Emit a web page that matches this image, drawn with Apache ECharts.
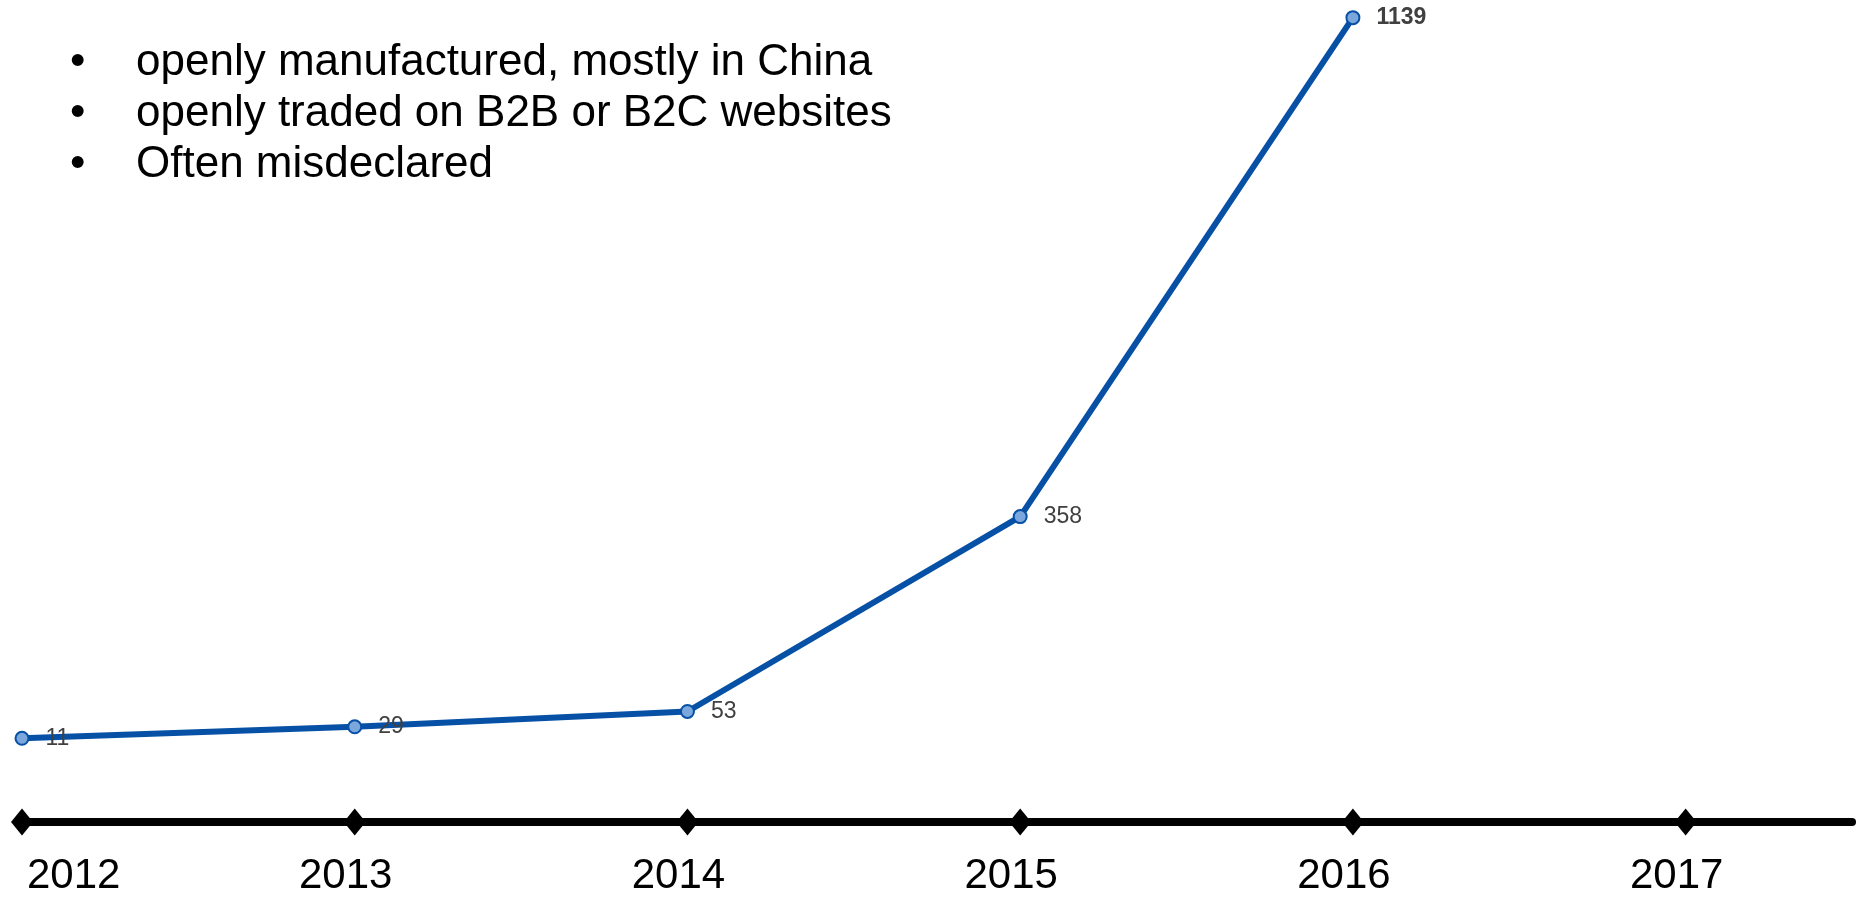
<!DOCTYPE html>
<html>
<head>
<meta charset="utf-8">
<script src="https://cdn.jsdelivr.net/npm/echarts@6/dist/echarts.min.js"></script>
<style>html,body{margin:0;padding:0;background:#fff;}#c{width:1863px;height:897px;}</style>
</head>
<body>
<div id="c"></div>
<script>
var years = [2012, 2013, 2014, 2015, 2016, 2017];
var dataYears = [2012, 2013, 2014, 2015, 2016];
var values = [11, 29, 53, 358, 1139];
var bullets = ['openly manufactured, mostly in China', 'openly traded on B2B or B2C websites', 'Often misdeclared'];

var FONT = '"Liberation Sans", Arial, sans-serif';
var yMin = -120, yMax = 1140;

var chart = echarts.init(document.getElementById('c'));
var lineData = dataYears.map(function (y, i) {
  var d = { value: [y, values[i]] };
  if (i === dataYears.length - 1) d.label = { fontWeight: 'bold' };
  return d;
});
var tickData = years.map(function (y) { return [y, yMin]; });

var graphics = [];
bullets.forEach(function (t, i) {
  var yc = 66 + i * 51;
  graphics.push({ type: 'text', left: 70, top: yc - 25, style: { text: '•', font: '44px ' + FONT, fill: '#000' } });
  graphics.push({ type: 'text', left: 136, top: yc - 25, style: { text: t, font: '44px ' + FONT, fill: '#000' } });
});

chart.setOption({
  animation: false,
  backgroundColor: '#fff',
  grid: { left: 22, right: 11, top: 17, bottom: 72 },
  xAxis: {
    type: 'value', min: 2012, max: 2017.5, interval: 1,
    splitLine: { show: false },
    axisTick: { show: false },
    axisLine: { show: true, onZero: false, lineStyle: { color: '#000', width: 8 } },
    axisLabel: {
      show: true, margin: 33, fontSize: 42, fontFamily: FONT, color: '#000',
      padding: [0, 18, 0, 0],
      alignMinLabel: 'left',
      showMaxLabel: false,
      formatter: function (v) { return Math.round(v) === v ? (v === years[0] ? '{f|' + v + '}' : String(v)) : ''; },
      rich: { f: { fontSize: 42, fontFamily: FONT, color: '#000', padding: [0, 0, 0, 5] } }
    }
  },
  yAxis: { type: 'value', min: yMin, max: yMax, show: false, splitLine: { show: false } },
  graphic: graphics,
  series: [
    {
      type: 'line', data: lineData, z: 3,
      lineStyle: { color: '#0650a6', width: 6 },
      symbol: 'circle', symbolSize: 13,
      itemStyle: { color: '#7ba7dc', borderColor: '#0650a6', borderWidth: 2 },
      label: { show: true, position: 'right', distance: 16, fontSize: 23, fontFamily: FONT, color: '#404040' }
    },
    {
      type: 'scatter', data: tickData, clip: false, z: 4,
      symbol: 'diamond', symbolSize: [22, 27],
      itemStyle: { color: '#000', opacity: 1 }
    }
  ]
});
</script>
</body>
</html>
